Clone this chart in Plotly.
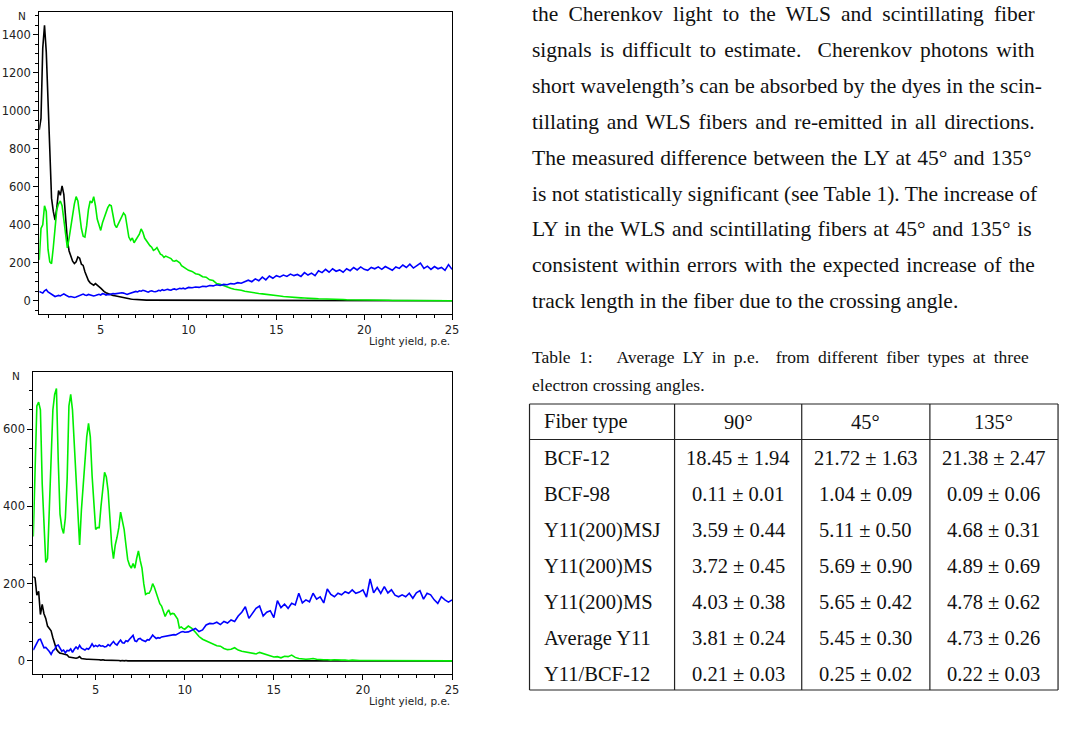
import plotly.graph_objects as go

W, H = 1072, 755

# ---------------- histogram bin centres (light yield, p.e.) ----------------
X_FINE = [1.5, 1.6, 1.7, 1.8, 1.9, 2.0, 2.1, 2.2, 2.3, 2.4,
          2.5, 2.6, 2.7, 2.8, 2.9, 3.0, 3.1, 3.2, 3.3, 3.4,
          3.5, 3.6, 3.7, 3.8, 3.9, 4.0, 4.1, 4.2, 4.3, 4.4,
          4.5, 4.6, 4.7, 4.8, 4.9, 5.0, 5.1, 5.2, 5.3, 5.4,
          5.5, 5.6, 5.7, 5.8, 5.9, 6.0, 6.1, 6.2, 6.3, 6.4,
          6.5, 6.6, 6.7, 6.8, 6.9, 7.0, 7.1, 7.2, 7.3, 7.4,
          7.5, 7.6, 7.7, 7.8, 7.9, 8.0, 8.1, 8.2, 8.3, 8.4,
          8.5, 8.6, 8.7, 8.8, 8.9, 9.0, 9.1, 9.2, 9.3, 9.4,
          9.5, 9.6, 9.7, 9.8, 9.9, 10.0]
X_COARSE = [10.2, 10.4, 10.6, 10.8, 11.0, 11.2, 11.4, 11.6, 11.8, 12.0,
            12.2, 12.4, 12.6, 12.8, 13.0, 13.2, 13.4, 13.6, 13.8, 14.0,
            14.2, 14.4, 14.6, 14.8, 15.0, 15.2, 15.4, 15.6, 15.8, 16.0,
            16.2, 16.4, 16.6, 16.8, 17.0, 17.2, 17.4, 17.6, 17.8, 18.0,
            18.2, 18.4, 18.6, 18.8, 19.0, 19.2, 19.4, 19.6, 19.8, 20.0,
            20.2, 20.4, 20.6, 20.8, 21.0, 21.2, 21.4, 21.6, 21.8, 22.0,
            22.2, 22.4, 22.6, 22.8, 23.0, 23.2, 23.4, 23.6, 23.8, 24.0,
            24.2, 24.4, 24.6, 24.8, 25.0]
LIGHT_YIELD = X_FINE + X_COARSE

# ---------------- top panel ----------------
TOP_BLACK = [900, 960, 1330, 1450, 1310, 1060, 830, 540, 470, 425,
             490, 580, 555, 605, 560, 420, 320, 262, 228, 208,
             196, 205, 230, 224, 192, 186, 152, 128, 106, 94,
             86, 82, 90, 80, 74, 66, 56, 48, 42, 38,
             33, 30, 28, 26, 24, 22, 19, 17, 14, 13,
             12, 10, 9, 8, 7, 7, 6, 5, 5, 4,
             4, 3, 3, 3, 2, 2, 2, 2, 2, 1,
             1, 1, 2, 1, 1, 1, 1, 1, 1, 1,
             1, 1, 1, 1, 1, 1,
             1, 1, 1, 1, 1, 0, 1, 0, 0, 0,
             0, 0, 0, 0, 0, 0, 0, 0, 0, 0,
             0, 0, 0, 0, 0, 0, 0, 0, 0, 0,
             0, 0, 0, 0, 0, 0, 0, 0, 0, 0,
             0, 0, 0, 0, 0, 0, 0, 0, 0, 0,
             0, 0, 0, 0, 0, 0, 0, 0, 0, 0,
             0, 0, 0, 0, 0, 0, 0, 0, 0, 0,
             0, 0, 0, 0, 0]
TOP_GREEN = [215, 380, 400, 500, 470, 270, 205, 195, 280, 400,
             480, 510, 525, 500, 420, 340, 278, 330, 400, 455,
             510, 548, 525, 455, 380, 340, 335, 395, 480, 525,
             515, 548, 500, 430, 395, 370, 410, 440, 470, 490,
             505, 500, 450, 400, 385, 405, 420, 440, 462, 450,
             380, 335, 318, 330, 305, 320, 340, 350, 378, 360,
             330, 315, 300, 290, 282, 265, 270, 280, 262, 245,
             240, 228, 235, 232, 226, 222, 210, 208, 212, 205,
             200, 184, 178, 170, 164, 160,
             154, 142, 138, 126, 124, 110, 106, 90, 86, 78,
             70, 66, 60, 58, 55, 50, 46, 42, 38, 38,
             36, 34, 32, 32, 30, 25, 22, 20, 18, 17,
             16, 15, 14, 14, 12, 11, 10, 10, 9, 9,
             8, 7, 6, 6, 5, 5, 4, 4, 3, 3,
             3, 3, 2, 2, 2, 2, 2, 1, 2, 1,
             1, 1, 1, 1, 1, 1, 1, 1, 1, 0,
             1, 0, 1, 0, 0]
TOP_BLUE = [48, 42, 40, 52, 58, 46, 40, 32, 26, 22,
            25, 28, 25, 30, 36, 30, 24, 20, 22, 18,
            17, 19, 24, 28, 32, 35, 30, 28, 33, 30,
            28, 25, 27, 32, 34, 30, 37, 35, 30, 33,
            32, 35, 38, 36, 38, 40, 38, 42, 40, 36,
            33, 37, 40, 44, 47, 49, 46, 52, 50, 55,
            52, 48, 45, 50, 52, 48, 47, 50, 55, 52,
            58, 54, 56, 60, 57, 55, 60, 62, 58, 61,
            65, 63, 66, 62, 68, 70,
            68, 72, 70, 76, 74, 80, 78, 84, 80, 86,
            84, 90, 88, 95, 92, 98, 108, 100, 115, 105,
            124, 110, 130, 118, 132, 125, 135, 128, 140, 132,
            138, 128, 148, 135, 145, 132, 158, 148, 165, 150,
            168, 155, 162, 150, 168, 158, 175, 162, 178, 165,
            160, 175, 168, 178, 165, 180, 172, 160, 178, 170,
            188, 175, 192, 172, 185, 198, 170, 182, 165, 180,
            168, 175, 160, 190, 165]

# ---------------- bottom panel ----------------
BOTTOM_BLACK = [218, 215, 170, 180, 120, 146, 122, 110, 90, 84,
                78, 60, 45, 30, 24, 20, 19, 18, 17, 15,
                10, 9, 9, 8, 7, 8, 11, 6, 5, 5,
                4, 4, 4, 3, 3, 3, 3, 3, 2, 3,
                2, 2, 1, 2, 1, 1, 1, 1, 1, 0,
                1, 0, 1, 0, 0, 1, 0, 0, 0, 0,
                0, 0, 0, 0, 0, 0, 0, 0, 0, 0,
                0, 0, 0, 0, 0, 0, 0, 0, 0, 0,
                0, 0, 0, 0, 0, 0,
                0, 0, 0, 0, 0, 0, 0, 0, 0, 0,
                0, 0, 0, 0, 0, 0, 0, 0, 0, 0,
                0, 0, 0, 0, 0, 0, 0, 0, 0, 0,
                0, 0, 0, 0, 0, 0, 0, 0, 0, 0,
                0, 0, 0, 0, 0, 0, 0, 0, 0, 0,
                0, 0, 0, 0, 0, 0, 0, 0, 0, 0,
                0, 0, 0, 0, 0, 0, 0, 0, 0, 0,
                0, 0, 0, 0, 0]
BOTTOM_GREEN = [322, 480, 660, 670, 650, 460, 340, 255, 265, 400,
                560, 650, 690, 705, 520, 380, 345, 330, 370, 470,
                660, 690, 650, 560, 450, 370, 300, 390, 455, 525,
                580, 615, 580, 480, 400, 340, 345, 345, 400, 445,
                488, 476, 440, 370, 300, 265, 300, 320, 345, 385,
                365, 340, 300, 262, 248, 240, 252, 240, 265, 285,
                260, 240, 200, 172, 175, 175, 184, 200, 190, 175,
                160, 148, 142, 128, 115, 125, 132, 120, 123, 122,
                114, 108, 85, 88, 84, 82,
                90, 84, 74, 63, 56, 52, 46, 42, 39, 38,
                32, 29, 30, 34, 28, 25, 23, 22, 20, 18,
                22, 19, 15, 12, 10, 11, 8, 12, 11, 15,
                9, 6, 5, 4, 5, 6, 4, 3, 3, 3,
                2, 3, 2, 2, 2, 1, 2, 1, 1, 1,
                1, 1, 1, 0, 1, 0, 1, 0, 0, 1,
                0, 0, 0, 1, 0, 0, 0, 0, 0, 0,
                0, 0, 0, 0, 0]
BOTTOM_BLUE = [28, 37, 47, 55, 56, 42, 34, 35, 30, 24,
               17, 26, 30, 39, 41, 32, 25, 28, 21, 27,
               26, 31, 22, 30, 36, 31, 40, 33, 30, 28,
               32, 30, 36, 44, 37, 40, 37, 41, 38, 39,
               36, 37, 42, 39, 45, 50, 44, 41, 48, 54,
               47, 46, 52, 50, 56, 62, 66, 52, 50, 57,
               58, 54, 52, 50, 55, 54, 60, 67, 62, 58,
               60, 59, 62, 63, 63, 64, 65, 66, 67, 68,
               67, 70, 73, 75, 76, 74,
               75, 80, 84, 76, 80, 93, 97, 96, 100, 94,
               102, 98, 106, 102, 116, 126, 140, 110, 123, 136,
               142, 116, 126, 130, 112, 156, 138, 147, 136, 149,
               145, 175, 150, 158, 153, 175, 160, 166, 150, 186,
               172, 166, 175, 171, 179, 175, 184, 175, 178, 184,
               165, 212, 176, 190, 175, 192, 176, 184, 170, 166,
               171, 166, 175, 162, 176, 182, 160, 175, 171, 158,
               149, 166, 158, 152, 158]

# ---------------- text and table ----------------
BODY_LINES = [
    "the Cherenkov light to the WLS and scintillating fiber",
    "signals is difficult to estimate.\u00a0 Cherenkov photons with",
    "short wavelength\u2019s can be absorbed by the dyes in the scin-",
    "tillating and WLS fibers and re-emitted in all directions.",
    "The measured difference between the LY at 45\u00b0 and 135\u00b0",
    "is not statistically significant (see Table 1). The increase of",
    "LY in the WLS and scintillating fibers at 45\u00b0 and 135\u00b0 is",
    "consistent within errors with the expected increase of the",
    "track length in the fiber due to the crossing angle.",
]
CAPTION_LINES = [
    "Table 1:\u00a0\u00a0 Average LY in p.e.\u00a0 from different fiber types at three",
    "electron crossing angles.",
]
TABLE_HEADER = ["Fiber type", "90\u00b0", "45\u00b0", "135\u00b0"]
FIBER_TYPES = ["BCF-12", "BCF-98", "Y11(200)MSJ", "Y11(200)MS", "Y11(200)MS",
               "Average Y11", "Y11/BCF-12"]
LY_90 = [18.45, 0.11, 3.59, 3.72, 4.03, 3.81, 0.21]
ERR_90 = [1.94, 0.01, 0.44, 0.45, 0.38, 0.24, 0.03]
LY_45 = [21.72, 1.04, 5.11, 5.69, 5.65, 5.45, 0.25]
ERR_45 = [1.63, 0.09, 0.50, 0.90, 0.42, 0.30, 0.02]
LY_135 = [21.38, 0.09, 4.68, 4.89, 4.78, 4.73, 0.22]
ERR_135 = [2.47, 0.06, 0.31, 0.69, 0.62, 0.26, 0.03]

# Times/Liberation Serif advance widths (1/1000 em) used to justify the text lines
_TIMES = {" ": 250, "\u00a0": 250, "(": 333, ")": 333, ",": 250, "-": 333, ".": 250,
          "/": 278, ":": 278, "\u00b0": 400, "\u2019": 333, "\u00b1": 564,
          "A": 722, "B": 667, "C": 667, "D": 722, "E": 611, "F": 556, "G": 722,
          "H": 722, "I": 333, "J": 389, "K": 722, "L": 611, "M": 889, "N": 722,
          "O": 722, "P": 556, "Q": 722, "R": 667, "S": 556, "T": 611, "U": 722,
          "V": 722, "W": 944, "X": 722, "Y": 722, "Z": 611,
          "a": 444, "b": 500, "c": 444, "d": 500, "e": 444, "f": 333, "g": 500,
          "h": 500, "i": 278, "j": 278, "k": 500, "l": 278, "m": 778, "n": 500,
          "o": 500, "p": 500, "q": 500, "r": 333, "s": 389, "t": 278, "u": 500,
          "v": 500, "w": 722, "x": 500, "y": 500, "z": 444}


def text_width(s, size):
    return sum(_TIMES.get(c, 500) for c in s) * size / 1000.0


def justified(s, size, width):
    nsp = sum(1 for c in s if c in (" ", "\u00a0"))
    extra = max(0.0, (width - text_width(s, size)) / max(nsp, 1))
    return f'<span style="word-spacing:{extra:.2f}px">{s}</span>'


def px(x):
    return x / W


def py(y):
    return 1 - y / H


SANS = "DejaVu Sans"
SERIF = "Liberation Serif"
LINE_W = 1.6

fig = go.Figure()
for ys, col in [(TOP_BLACK, "#000000"), (TOP_GREEN, "#00ee00"), (TOP_BLUE, "#0000ff")]:
    fig.add_trace(go.Scatter(x=LIGHT_YIELD, y=ys, mode="lines", xaxis="x", yaxis="y",
                             line=dict(color=col, width=LINE_W), hoverinfo="skip"))
for ys, col in [(BOTTOM_BLACK, "#000000"), (BOTTOM_GREEN, "#00ee00"), (BOTTOM_BLUE, "#0000ff")]:
    fig.add_trace(go.Scatter(x=LIGHT_YIELD, y=ys, mode="lines", xaxis="x2", yaxis="y2",
                             line=dict(color=col, width=LINE_W), hoverinfo="skip"))

tickfont = dict(family=SANS, size=11.5, color="#222222")
common_x = dict(range=[1.5, 25], dtick=5, tick0=0, ticks="outside", ticklen=5,
                tickwidth=1, tickcolor="black", showline=True, linecolor="black",
                linewidth=1, mirror=True, showgrid=False, zeroline=False,
                tickfont=tickfont,
                minor=dict(dtick=1, tick0=0, ticks="outside", ticklen=3,
                           tickcolor="black", showgrid=False))
common_y = dict(dtick=200, tick0=0, ticks="outside", ticklen=5, tickwidth=1,
                tickcolor="black", showline=True, linecolor="black", linewidth=1,
                mirror=True, showgrid=False, zeroline=False, tickfont=tickfont,
                minor=dict(dtick=50, tick0=0, ticks="outside", ticklen=3,
                           tickcolor="black", showgrid=False))

fig.update_layout(
    width=W, height=H, margin=dict(l=0, r=0, t=0, b=0),
    paper_bgcolor="white", plot_bgcolor="white", showlegend=False,
    xaxis=dict(domain=[px(39.5), px(455)], anchor="y", **common_x),
    yaxis=dict(domain=[py(314), py(12)], anchor="x", range=[-70, 1520], **common_y),
    xaxis2=dict(domain=[px(33.5), px(455)], anchor="y2", **common_x),
    yaxis2=dict(domain=[py(674), py(372)], anchor="x2", range=[-34, 748], **common_y),
)

ann = []
labfont = dict(family=SANS, size=10.5, color="#222222")
ann.append(dict(text="N", x=px(22), y=py(16), xref="paper", yref="paper",
                showarrow=False, font=labfont, xanchor="center", yanchor="middle"))
ann.append(dict(text="N", x=px(16), y=py(376), xref="paper", yref="paper",
                showarrow=False, font=labfont, xanchor="center", yanchor="middle"))
for yy in (341, 701):
    ann.append(dict(text="Light yield, p.e.", x=px(455), y=py(yy), xref="paper",
                    yref="paper", showarrow=False, font=labfont, xanchor="right",
                    yanchor="middle"))

BODY_SIZE = 21.5
body_font = dict(family=SERIF, size=BODY_SIZE, color="#111111")
for i, line in enumerate(BODY_LINES):
    yc = 14 + i * 35.9
    txt = line if i == len(BODY_LINES) - 1 else justified(line, BODY_SIZE, 503)
    ann.append(dict(text=txt, x=px(533), y=py(yc), xref="paper", yref="paper",
                    showarrow=False, font=body_font, xanchor="left", yanchor="middle"))

CAP_SIZE = 17.5
cap_font = dict(family=SERIF, size=CAP_SIZE, color="#111111")
for i, line in enumerate(CAPTION_LINES):
    txt = justified(line, CAP_SIZE, 503) if i == 0 else line
    ann.append(dict(text=txt, x=px(533), y=py(357 + 28 * i), xref="paper", yref="paper",
                    showarrow=False, font=cap_font, xanchor="left", yanchor="middle"))

# table
col_edges = [533, 679, 807, 936, 1065]
row_top, row_head, row_bot = 404, 439.5, 690
cell_font = dict(family=SERIF, size=20.5, color="#111111")
row_centres = [422 + 36 * i for i in range(len(FIBER_TYPES) + 1)]

ann.append(dict(text=TABLE_HEADER[0], x=px(546), y=py(row_centres[0]), xref="paper",
                yref="paper", showarrow=False, font=cell_font, xanchor="left",
                yanchor="middle"))
for j in range(1, 4):
    xc = (col_edges[j] + col_edges[j + 1]) / 2
    ann.append(dict(text=TABLE_HEADER[j], x=px(xc), y=py(row_centres[0]), xref="paper",
                    yref="paper", showarrow=False, font=cell_font, xanchor="center",
                    yanchor="middle"))
columns = [(LY_90, ERR_90), (LY_45, ERR_45), (LY_135, ERR_135)]
for i, name in enumerate(FIBER_TYPES):
    yc = row_centres[i + 1]
    ann.append(dict(text=name, x=px(546), y=py(yc), xref="paper", yref="paper",
                    showarrow=False, font=cell_font, xanchor="left", yanchor="middle"))
    for j, (vals, errs) in enumerate(columns):
        xc = (col_edges[j + 1] + col_edges[j + 2]) / 2
        ann.append(dict(text=f"{vals[i]:.2f} \u00b1 {errs[i]:.2f}", x=px(xc), y=py(yc),
                        xref="paper", yref="paper", showarrow=False, font=cell_font,
                        xanchor="center", yanchor="middle"))

shapes = []
for yy in (row_top, row_head, row_bot):
    shapes.append(dict(type="line", xref="paper", yref="paper", x0=px(col_edges[0]),
                       x1=px(col_edges[-1]), y0=py(yy), y1=py(yy),
                       line=dict(color="#222222", width=1.2)))
for xx in col_edges:
    shapes.append(dict(type="line", xref="paper", yref="paper", x0=px(xx), x1=px(xx),
                       y0=py(row_top), y1=py(row_bot),
                       line=dict(color="#222222", width=1.2)))

fig.update_layout(annotations=ann, shapes=shapes)
fig.write_html("out.html")
